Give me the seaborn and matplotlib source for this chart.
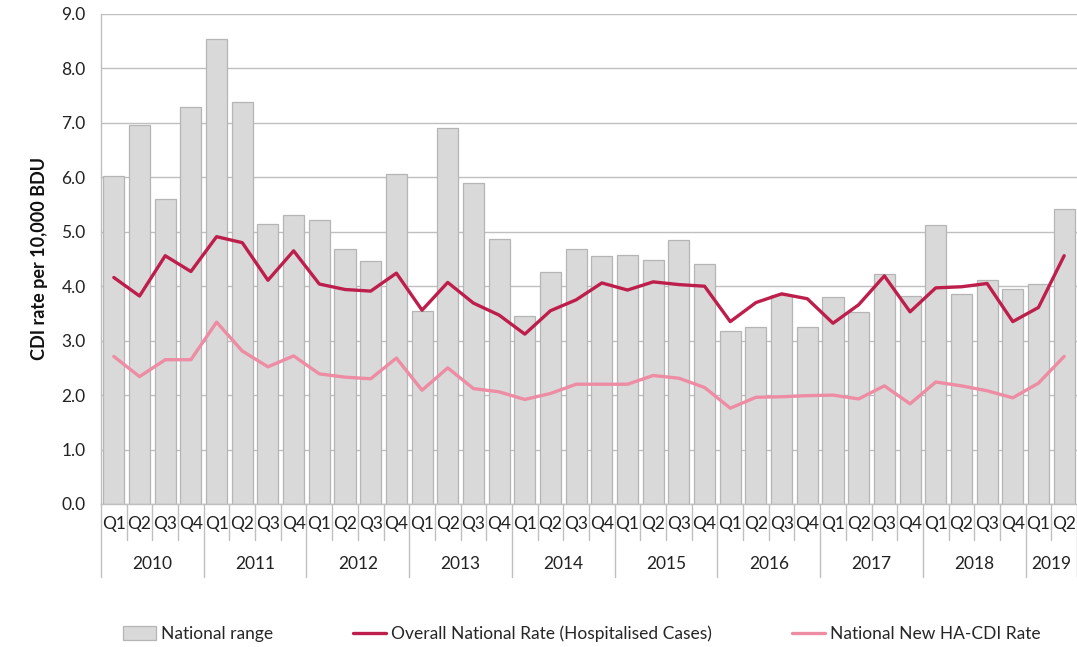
import numpy as np
import pandas as pd
import matplotlib
matplotlib.use("Agg")
import matplotlib.pyplot as plt
from matplotlib.patches import Patch
from matplotlib.lines import Line2D
import seaborn as sns

years = ["2010", "2011", "2012", "2013", "2014", "2015", "2016", "2017", "2018", "2019"]
quarters_per_year = [4, 4, 4, 4, 4, 4, 4, 4, 4, 2]
quarter_names = ["Q1", "Q2", "Q3", "Q4"]

national_range = [6.02, 6.97, 5.60, 7.30,
                  8.55, 7.38, 5.14, 5.30,
                  5.22, 4.68, 4.46, 6.07,
                  3.54, 6.90, 5.90, 4.86,
                  3.45, 4.26, 4.68, 4.55,
                  4.57, 4.48, 4.85, 4.40,
                  3.18, 3.25, 3.83, 3.25,
                  3.81, 3.53, 4.22, 3.82,
                  5.12, 3.85, 4.11, 3.94,
                  4.05, 5.42]
overall_rate = [4.16, 3.82, 4.56, 4.27,
                4.91, 4.80, 4.11, 4.65,
                4.04, 3.94, 3.91, 4.24,
                3.56, 4.07, 3.69, 3.47,
                3.12, 3.55, 3.75, 4.06,
                3.93, 4.08, 4.03, 4.00,
                3.35, 3.70, 3.86, 3.77,
                3.32, 3.66, 4.19, 3.53,
                3.97, 3.99, 4.05, 3.35,
                3.61, 4.56]
ha_cdi_rate = [2.71, 2.34, 2.65, 2.65,
               3.34, 2.81, 2.52, 2.72,
               2.39, 2.33, 2.30, 2.68,
               2.09, 2.50, 2.12, 2.06,
               1.92, 2.03, 2.20, 2.20,
               2.20, 2.36, 2.31, 2.14,
               1.76, 1.96, 1.97, 1.99,
               2.00, 1.93, 2.17, 1.84,
               2.24, 2.17, 2.08, 1.95,
               2.22, 2.71]

labels_q = []
labels_full = []
for y, nq in zip(years, quarters_per_year):
    for q in quarter_names[:nq]:
        labels_q.append(q)
        labels_full.append(f"{y} {q}")
n = len(labels_full)

df = pd.DataFrame({"period": labels_full, "idx": np.arange(n),
                   "range": national_range, "overall": overall_rate, "ha": ha_cdi_rate})

sns.set_theme(style="white")
plt.rcParams["font.family"] = ["Lato", "DejaVu Sans"]

fig = plt.figure(figsize=(10.77, 6.47), dpi=100)
ax = fig.add_axes([101 / 1077, 143 / 647, 976 / 1077, 490 / 647])

grid_c = "#bfbfbf"
ax.set_axisbelow(True)
ax.yaxis.grid(True, color=grid_c, linewidth=1.0)

sns.barplot(data=df, x="period", y="range", color="#d9d9d9", saturation=1,
            edgecolor="#b5b5b5", linewidth=0.9, width=0.82, ax=ax, zorder=2)
sns.lineplot(data=df, x="idx", y="overall", color="#be1e4b", linewidth=2.4, ax=ax, zorder=3)
sns.lineplot(data=df, x="idx", y="ha", color="#ee8ca4", linewidth=2.4, ax=ax, zorder=3)

ax.set_xlim(-0.5, n - 0.5)
ax.set_ylim(0, 9)
ax.set_yticks(np.arange(0, 9.01, 1.0))
ax.set_yticklabels([f"{v:.1f}" for v in np.arange(0, 9.01, 1.0)], fontsize=12.5, color="#222222")
ax.tick_params(axis="y", direction="out", length=5, width=1, color=grid_c, pad=6)

ax.set_xticks(np.arange(n))
ax.set_xticklabels(labels_q, fontsize=12.5, color="#222222")
ax.tick_params(axis="x", length=0, pad=9)
ax.set_xlabel("")
ax.set_ylabel("CDI rate per 10,000 BDU", fontsize=13, fontweight="bold", labelpad=10, color="#111111")

for s in ["top", "right"]:
    ax.spines[s].set_visible(False)
for s in ["left", "bottom"]:
    ax.spines[s].set_color(grid_c)
    ax.spines[s].set_linewidth(1.0)

# quarter and year separators below the axis
xt = ax.get_xaxis_transform()
short = -36 / 490
long_ = -73 / 490
start = 0
year_bounds = [0]
for nq in quarters_per_year:
    start += nq
    year_bounds.append(start)
for b in range(n + 1):
    is_year = b in year_bounds
    ax.plot([b - 0.5, b - 0.5], [0, long_ if is_year else short], transform=xt,
            color=grid_c, linewidth=1.0, clip_on=False)
for i, y in enumerate(years):
    mid = (year_bounds[i] + year_bounds[i + 1] - 1) / 2
    ax.text(mid, -60 / 490, y, transform=xt, ha="center", va="center",
            fontsize=12.5, color="#222222")

handles = [Patch(facecolor="#d9d9d9", edgecolor="#b5b5b5", linewidth=0.9),
           Line2D([0], [0], color="#be1e4b", linewidth=2.4),
           Line2D([0], [0], color="#ee8ca4", linewidth=2.4)]
leg_labels = ["National range", "Overall National Rate (Hospitalised Cases)", "National New HA-CDI Rate"]
fig.legend(handles, leg_labels, loc="center", bbox_to_anchor=(0.54, 1 - 634 / 647), ncol=3,
           frameon=False, fontsize=12.5, columnspacing=4.6, handlelength=1.9, handletextpad=0.3,
           handleheight=0.9)

fig.savefig("out.png", dpi=100)
